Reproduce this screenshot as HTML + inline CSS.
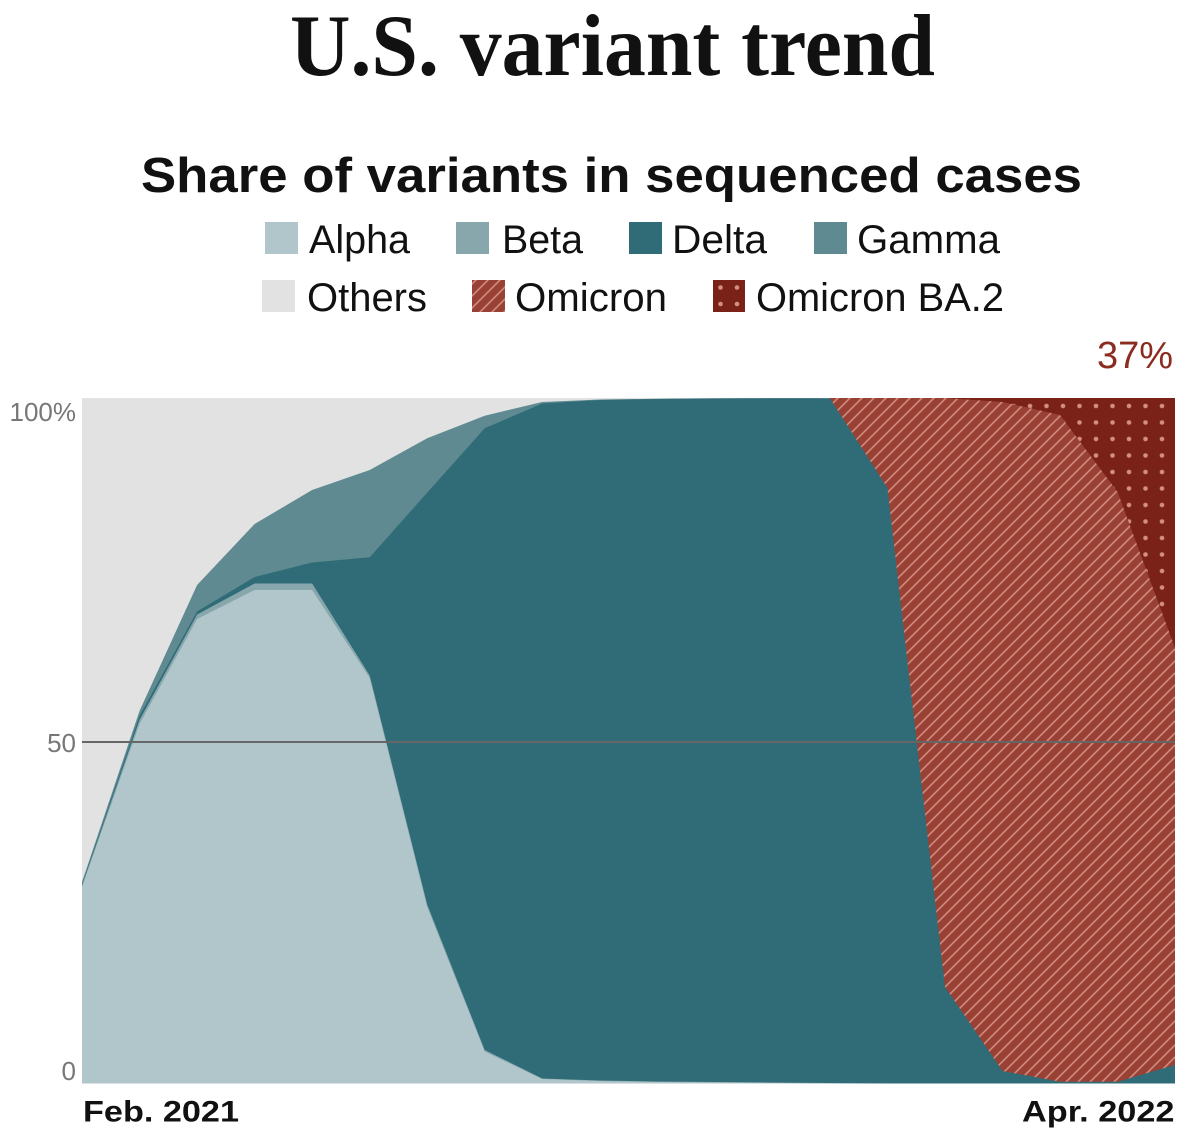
<!DOCTYPE html>
<html>
<head>
<meta charset="utf-8">
<style>
  html, body { margin: 0; padding: 0; background: #ffffff; }
  body { width: 1200px; height: 1142px; overflow: hidden; }
  svg { display: block; }
  text { font-family: "Liberation Sans", sans-serif; }
</style>
</head>
<body>
<svg width="1200" height="1142" viewBox="0 0 1200 1142" xmlns="http://www.w3.org/2000/svg">
  <defs>
    <pattern id="hatch" patternUnits="userSpaceOnUse" width="12" height="12">
      <rect x="0" y="0" width="12" height="12" fill="#9a4135"/>
      <path d="M-3,3 L3,-3 M0,12 L12,0 M9,15 L15,9" stroke="#cf8a7e" stroke-width="1.6" fill="none"/>
    </pattern>
    <pattern id="dots" patternUnits="userSpaceOnUse" x="1021.75" y="397.75" width="16.5" height="16.5">
      <rect x="0" y="0" width="16.5" height="16.5" fill="#7a2118"/>
      <circle cx="8.25" cy="8.25" r="2.3" fill="#d4907f"/>
    </pattern>
  </defs>

  <!-- Title -->
  <text x="290" y="75" font-family="Liberation Serif, serif" font-weight="bold" font-size="88" fill="#111" textLength="645" lengthAdjust="spacingAndGlyphs" style="font-family:'Liberation Serif',serif">U.S. variant trend</text>

  <!-- Subtitle -->
  <text x="141" y="192" font-weight="bold" font-size="49" fill="#111" textLength="941" lengthAdjust="spacingAndGlyphs">Share of variants in sequenced cases</text>

  <!-- Legend row 1 -->
  <rect x="265" y="222" width="33" height="32" fill="#b0c6cb"/>
  <text x="309" y="253" font-size="40" fill="#111" textLength="101" lengthAdjust="spacingAndGlyphs">Alpha</text>
  <rect x="456" y="222" width="33" height="32" fill="#87a7ad"/>
  <text x="502" y="253" font-size="40" fill="#111" textLength="81" lengthAdjust="spacingAndGlyphs">Beta</text>
  <rect x="629" y="222" width="33" height="32" fill="#306c77"/>
  <text x="672" y="253" font-size="40" fill="#111" textLength="95" lengthAdjust="spacingAndGlyphs">Delta</text>
  <rect x="814" y="222" width="33" height="32" fill="#5f8a91"/>
  <text x="857" y="253" font-size="40" fill="#111" textLength="143" lengthAdjust="spacingAndGlyphs">Gamma</text>

  <!-- Legend row 2 -->
  <rect x="262" y="280" width="33" height="32" fill="#e2e2e2"/>
  <text x="307" y="311" font-size="40" fill="#111" textLength="120" lengthAdjust="spacingAndGlyphs">Others</text>
  <rect x="472" y="280" width="33" height="32" fill="url(#hatch)"/>
  <text x="515" y="311" font-size="40" fill="#111" textLength="152" lengthAdjust="spacingAndGlyphs">Omicron</text>
  <rect x="713" y="280" width="32" height="32" fill="#7a2118"/>
  <circle cx="720.5" cy="287.5" r="2.3" fill="#d4907f"/>
  <circle cx="737" cy="287.5" r="2.3" fill="#d4907f"/>
  <circle cx="720.5" cy="304" r="2.3" fill="#d4907f"/>
  <circle cx="737" cy="304" r="2.3" fill="#d4907f"/>
  <text x="756" y="311" font-size="40" fill="#111" textLength="248" lengthAdjust="spacingAndGlyphs">Omicron BA.2</text>

  <!-- 37% label -->
  <text x="1173" y="368" font-size="38" fill="#8c2c20" text-anchor="end">37%</text>

  <!-- Plot: Others background -->
  <rect x="82" y="398" width="1093" height="685.5" fill="#e2e2e2"/>

  <!-- BA.2 -->
  <rect x="829.9" y="398" width="345.1" height="685.5" fill="url(#dots)"/>

  <!-- Omicron -->
  <polygon fill="url(#hatch)" points="829.9,398 887.4,398 945,398 1002.5,402 1060,415 1117.6,492 1175,648 1175,1083.5 829.9,1083.5"/>

  <!-- Gamma -->
  <polygon fill="#5f8a91" points="82,882 139.5,711 197.1,585 254.6,524 312.1,490 369.7,470 427.2,438.3 484.7,415.7 542.2,402 599.8,399.5 657.3,398.8 714.8,398.3 772.4,398.1 829.9,398.3 831,1083.5 82,1083.5"/>

  <!-- Delta -->
  <polygon fill="#306c77" points="82,884.5 139.5,716 197.1,611.5 254.6,577 312.1,562.5 369.7,557.3 427.2,492.6 484.7,428.3 542.2,403.5 599.8,400 657.3,399 714.8,398.5 772.4,398.3 829.9,398.3 887.4,488 945,987 1002.5,1071 1060,1081.7 1117.6,1081.7 1175,1065 1175,1083.5 82,1083.5"/>

  <!-- Beta -->
  <polygon fill="#87a7ad" points="82,885.5 139.5,720 197.1,614.5 254.6,583.5 312.1,583.5 369.7,675.5 427.2,904.5 484.7,1050 542.2,1078.5 599.8,1080.5 657.3,1081.5 714.8,1082 772.4,1082.5 829.9,1083 887.4,1083.5 887.4,1083.5 82,1083.5"/>

  <!-- Alpha -->
  <polygon fill="#b0c6cb" points="82,887 139.5,724 197.1,619 254.6,590 312.1,590 369.7,678 427.2,907 484.7,1051.5 542.2,1079 599.8,1081 657.3,1082 714.8,1082.5 772.4,1083 829.9,1083.5 82,1083.5"/>

  <!-- 50% gridline -->
  <line x1="82" y1="742" x2="1175" y2="742" stroke="#666666" stroke-width="2"/>

  <!-- Y axis labels -->
  <text x="76" y="421" font-size="26" fill="#777" text-anchor="end">100%</text>
  <text x="76" y="752" font-size="26" fill="#777" text-anchor="end">50</text>
  <text x="76" y="1080" font-size="26" fill="#777" text-anchor="end">0</text>

  <!-- X axis labels -->
  <text x="83" y="1121.5" font-weight="bold" font-size="30" fill="#111" textLength="156" lengthAdjust="spacingAndGlyphs">Feb. 2021</text>
  <text x="1022" y="1121.5" font-weight="bold" font-size="30" fill="#111" textLength="152.5" lengthAdjust="spacingAndGlyphs">Apr. 2022</text>
</svg>
</body>
</html>
